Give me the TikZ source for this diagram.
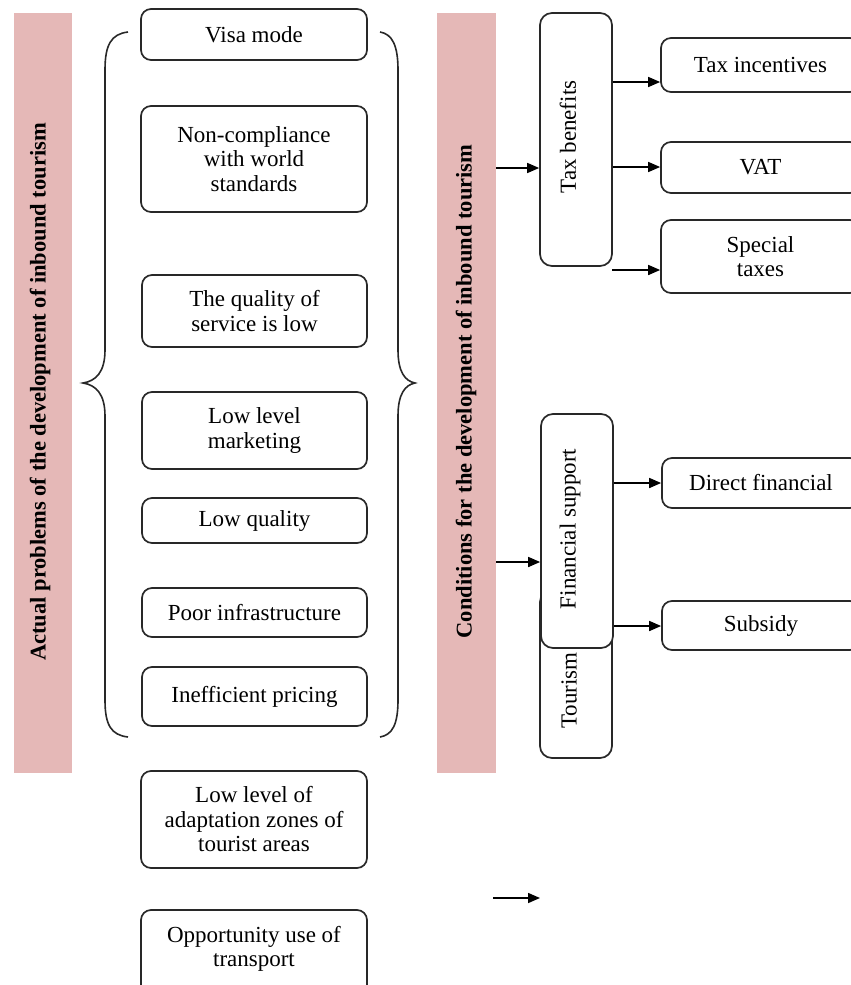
\documentclass[tikz,border=0pt]{standalone}
\usepackage{fontspec}
\setmainfont{Liberation Serif}
\usetikzlibrary{arrows.meta}
\definecolor{barpink}{RGB}{229,184,183}
\definecolor{edge}{RGB}{40,40,40}
\tikzset{
  box/.style={draw=edge, line width=1.7pt, rounded corners=10pt, fill=white,
    align=center, inner sep=0pt, font=\fontsize{23}{24.5}\selectfont},
  txt/.style={align=center, inner sep=0pt, font=\fontsize{23}{24.5}\selectfont},
  pinkbar/.style={fill=barpink, draw=none, inner sep=0pt},
  bartext/.style={rotate=90, inner sep=0pt, font=\fontsize{22.5}{24}\selectfont\bfseries},
  brace/.style={draw=edge, line width=1.6pt},
  arr/.style={draw=black, line width=1.6pt, -{Triangle[length=12pt,width=10pt]}}
}
\begin{document}
\begin{tikzpicture}[x=1pt,y=-1pt]
\useasboundingbox (0,0) rectangle (851,985);
\clip (0,0) rectangle (851,985);

% pink bars
\node[pinkbar, minimum width=58pt, minimum height=760pt] (lbar) at (43,393) {};
\node[bartext] (ltext) at (40,392) {Actual problems of the development of inbound tourism};
\node[pinkbar, minimum width=59pt, minimum height=760pt] (rbar) at (466.5,393) {};
\node[bartext] (rtext) at (466,391.5) {Conditions for the development of inbound tourism};

% braces
\draw[brace] (128,32) .. controls (111,34) and (105,45) .. (105,70) -- (105,350)
  .. controls (105,372) and (96,381) .. (83,383)
  .. controls (96,385) and (105,394) .. (105,416) -- (105,700)
  .. controls (105,725) and (111,735) .. (128,737);
\draw[brace] (380,32) .. controls (392,34) and (398,45) .. (398,70) -- (398,350)
  .. controls (398,372) and (405,381) .. (415,383)
  .. controls (405,385) and (398,394) .. (398,416) -- (398,700)
  .. controls (398,725) and (392,735) .. (380,737);

% left boxes
\node[box, minimum width=226pt, minimum height=51pt] (visa) at (254,34.5) {Visa mode};
\node[box, minimum width=226pt, minimum height=106pt] (noncomp) at (254,159) {Non-compliance\\with world\\standards};
\node[box, minimum width=225pt, minimum height=72pt] (quality) at (254.5,311) {The quality of\\service is low};
\node[box, minimum width=225pt, minimum height=77pt] (market) at (254.5,430.5) {Low level\\marketing};
\node[box, minimum width=225pt, minimum height=45pt] (lowq) at (254.5,520.5) {Low quality};
\node[box, minimum width=225pt, minimum height=49pt] (poor) at (254.5,612.5) {Poor infrastructure};
\node[box, minimum width=225pt, minimum height=59pt] (ineff) at (254.5,696.5) {Inefficient pricing};
\node[box, minimum width=226pt, minimum height=97pt] (adapt) at (254,819.5) {Low level of\\adaptation zones of\\tourist areas};
\node[box, minimum width=226pt, minimum height=90pt] (opp) at (254,955) {};
\node[txt] (opptext) at (254,949) {Opportunity use of\\transport};

% right column boxes
\node[box, rounded corners=12pt, minimum width=72pt, minimum height=253pt] (tax) at (576,139.5) {};
\node[txt, rotate=90] (taxtext) at (568,137) {Tax benefits};

\node[box, rounded corners=12pt, minimum width=72pt, minimum height=168pt] (tour) at (576,674) {};
\node[txt, rotate=90, anchor=west] (tourtext) at (569,729) {Tourism};
\node[box, rounded corners=12pt, minimum width=72pt, minimum height=234pt] (fin) at (577,531) {};
\node[txt, rotate=90] (fintext) at (570,529) {Financial support};

\node[box, minimum width=199pt, minimum height=54pt] (ti) at (760.5,65) {Tax incentives};
\node[box, minimum width=199pt, minimum height=51pt] (vat) at (760.5,167.5) {VAT};
\node[box, minimum width=199pt, minimum height=73pt] (spec) at (760.5,256.5) {Special\\taxes};
\node[box, minimum width=198pt, minimum height=50pt] (direct) at (761,483) {Direct financial};
\node[box, minimum width=198pt, minimum height=49pt] (subs) at (761,625.5) {Subsidy};

% connectors
\draw[arr] (rbar.east |- 0,168) -- (tax.west |- 0,168);
\draw[arr] (rbar.east |- 0,562) -- (fin.west |- 0,562);
\draw[arr] (tax.east |- 0,82) -- (ti.west |- 0,82);
\draw[arr] (tax.east |- 0,167) -- (vat.west |- 0,167);
\coordinate (spstart) at (612,270);
\draw[arr] (spstart) -- (spec.west |- spstart);
\draw[arr] (fin.east |- 0,483) -- (direct.west |- 0,483);
\draw[arr] (fin.east |- 0,626) -- (subs.west |- 0,626);
\coordinate (b1) at (493,898);
\coordinate (b2) at (540,898);
\draw[arr] (b1) -- (b2);
\end{tikzpicture}
\end{document}
